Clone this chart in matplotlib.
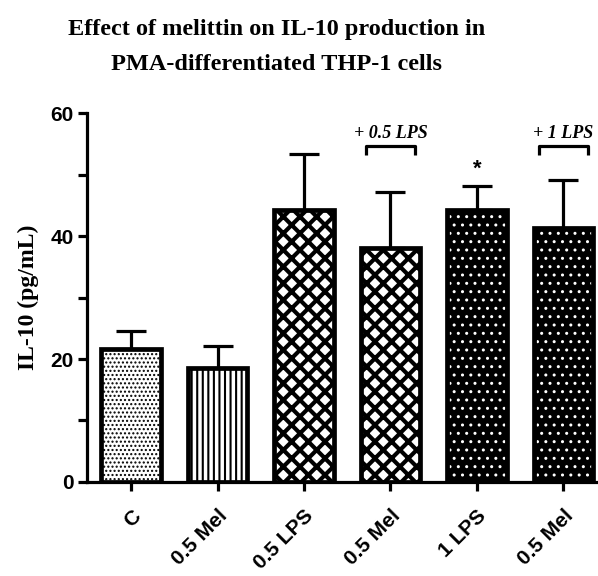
import matplotlib
matplotlib.use("Agg")
import matplotlib.pyplot as plt
import numpy as np

# IL-10 (pg/mL), mean and upper error
groups = ["C", "0.5 Mel", "0.5 LPS", "0.5 Mel", "1 LPS", "0.5 Mel"]
il10_mean = [21.6, 18.6, 44.2, 38.1, 44.3, 41.3]
il10_err = [2.9, 3.5, 9.2, 9.0, 3.9, 7.8]
hatches = ["....", "|||", "xx", "xx", "..", ".."]
dark = [False, False, False, False, True, True]

# brackets: (label, bar index)
brackets = [("+ 0.5 LPS", 3), ("+ 1 LPS", 5)]
star_bar = 4

plt.rcParams['font.family'] = ['Liberation Sans', 'DejaVu Sans']

fig = plt.figure(figsize=(5.98, 5.76), dpi=100)
ax = fig.add_axes([0.1455, 0.1632, 0.8545, 0.6406])

x = np.arange(len(groups))
width = 0.69

for i in range(len(groups)):
  if dark[i]:
    fc, hc = "black", "white"
  else:
    fc, hc = "white", "black"
  # hatch layer (hatch colour follows the edge colour)
  b = ax.bar(x[i], il10_mean[i], width, color=fc, edgecolor=hc, hatch=hatches[i],
             linewidth=0, zorder=2)
  for p in b:
    if hasattr(p, "set_hatch_linewidth"):
      if hatches[i] == "xx":
        p.set_hatch_linewidth(3.0)
      elif hatches[i] == "|||":
        p.set_hatch_linewidth(1.5)
      else:
        p.set_hatch_linewidth(1.0)
  # outline
  ax.bar(x[i], il10_mean[i], width, color="none", edgecolor="black",
         linewidth=3.4, zorder=3)

ax.errorbar(x, il10_mean, yerr=[np.zeros(len(x)), il10_err], fmt="none",
            ecolor="black", elinewidth=2.3, capsize=11, capthick=2.3, zorder=1)

# brackets over the combined treatments
for label, i in brackets:
  half = 0.28
  ax.plot([x[i] - half, x[i] - half, x[i] + half, x[i] + half],
          [53.2, 54.6, 54.6, 53.2], color="black", lw=2.3,
          solid_capstyle="butt", clip_on=False)
  ax.text(x[i], 55.9, label, ha="center", va="baseline", fontsize=13,
          fontstyle="italic", fontweight="bold", family="Liberation Serif")

ax.text(x[star_bar], 49.2, "*", ha="center", va="bottom", fontsize=16,
        fontweight="bold", family="Liberation Sans")

ax.set_xlim(-0.51, 5.4)
ax.set_ylim(0, 60)
ax.set_yticks([0, 20, 40, 60])
ax.set_yticks([10, 30, 50], minor=True)
ax.set_xticks(x)
ax.set_xticklabels(groups, rotation=45, ha="right", rotation_mode="anchor",
                   fontsize=15, fontweight="bold")
for t in ax.get_yticklabels():
  t.set_fontsize(15)
  t.set_fontweight("bold")

ax.tick_params(axis="both", which="both", direction="out", length=6.5, width=2.3)
ax.tick_params(axis="x", pad=11)
ax.tick_params(axis="y", pad=3)
ax.spines["top"].set_visible(False)
ax.spines["right"].set_visible(False)
ax.spines["left"].set_linewidth(2.3)
ax.spines["bottom"].set_linewidth(2.3)

ax.set_ylabel("IL-10 (pg/mL)", fontsize=17, fontweight="bold",
              family="Liberation Serif", labelpad=8)
fig.suptitle("Effect of melittin on IL-10 production in\nPMA-differentiated THP-1 cells",
             x=0.463, y=0.967, fontsize=17.5, fontweight="bold",
             family="Liberation Serif", linespacing=1.9)

fig.savefig("out.png", dpi=100)
